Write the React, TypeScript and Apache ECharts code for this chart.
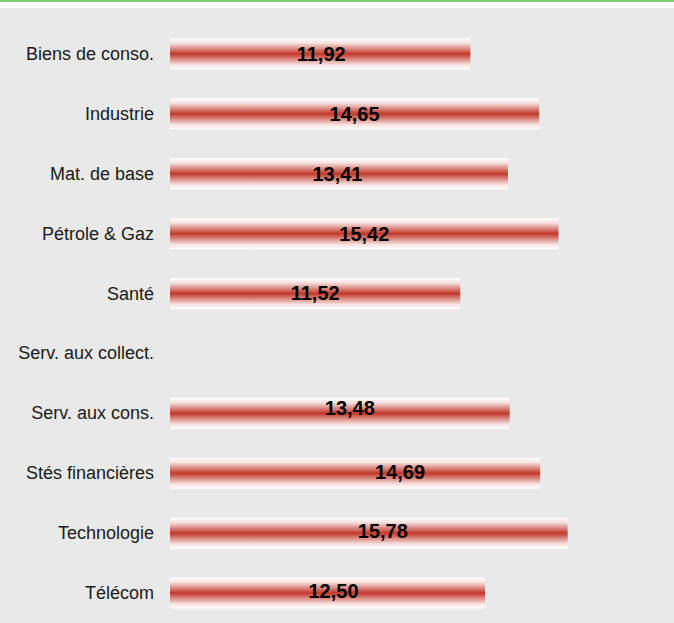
import React, { useEffect, useRef } from "react";
import * as echarts from "echarts";

const categories = [
  "Biens de conso.",
  "Industrie",
  "Mat. de base",
  "Pétrole & Gaz",
  "Santé",
  "Serv. aux collect.",
  "Serv. aux cons.",
  "Stés financières",
  "Technologie",
  "Télécom",
];

const values: (number | null)[] = [11.92, 14.65, 13.41, 15.42, 11.52, null, 13.48, 14.69, 15.78, 12.5];

// label nudges (styling only) [dx, dy]
const labelNudges: [number, number][] = [
  [1, 0], [0, 0.5], [-1.5, 0], [0, 0.5], [0, -1], [0, 0], [10, -5], [45, -1.5], [14, -2.5], [6, -2],
];

export default function App() {
  const ref = useRef<HTMLDivElement>(null);

  useEffect(() => {
    document.body.style.margin = "0";
    if (!ref.current) return;
    const chart = echarts.init(ref.current, null, { renderer: "svg" });
    const grad = new echarts.graphic.LinearGradient(0, 0, 0, 1, [
      { offset: 0, color: "#ffffff" },
      { offset: 0.15, color: "#f6e2e0" },
      { offset: 0.5, color: "#c2382b" },
      { offset: 0.85, color: "#f6e2e0" },
      { offset: 1, color: "#ffffff" },
    ]);
    chart.setOption({
      animation: false,
      backgroundColor: "#e9e9e9",
      grid: { left: 170, right: 0, top: 16, bottom: 0, containLabel: false },
      xAxis: {
        type: "value",
        min: 0,
        max: 20,
        show: false,
        splitLine: { show: false },
      },
      yAxis: {
        type: "category",
        data: categories,
        inverse: true,
        axisLine: { show: false },
        axisTick: { show: false },
        axisLabel: {
          margin: 16,
          fontFamily: "Liberation Sans, Arial, sans-serif",
          fontSize: 18,
          color: "#1a1a1a",
        },
      },
      series: [
        {
          type: "bar",
          barWidth: 31,
          data: values.map((v, i) => ({
            value: v === null ? "-" : v,
            label: { offset: labelNudges[i] },
          })),
          itemStyle: { color: grad },
          label: {
            show: true,
            position: "inside",
            fontFamily: "Liberation Sans, Arial, sans-serif",
            fontSize: 20,
            fontWeight: "bold",
            color: "#000",
            formatter: (p: any) => (typeof p.value === "number" ? p.value.toFixed(2).replace(".", ",") : ""),
          },
        },
      ],
    });
    return () => chart.dispose();
  }, []);

  return (
    <div style={{ width: 674, height: 623, background: "#ffffff", position: "relative", overflow: "hidden" }}>
      <div style={{ position: "absolute", left: 0, top: 0, width: 674, height: 1.5, background: "#7ccf6c" }} />
      <div ref={ref} style={{ position: "absolute", left: 0, top: 8, width: 674, height: 615 }} />
    </div>
  );
}
